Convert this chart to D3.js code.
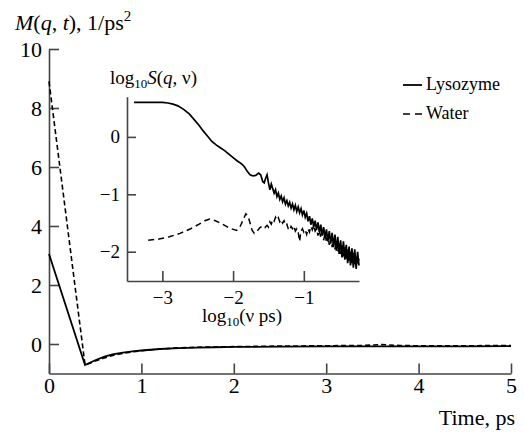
<!DOCTYPE html>
<html>
<head>
<meta charset="utf-8">
<script src="https://cdn.jsdelivr.net/npm/d3@7"></script>
<style>
  body { margin: 0; background: #fff; }
</style>
</head>
<body>
<div id="chart"></div>
<script>
var svgWidth = 524;
var svgHeight = 436;
var serif = "'Liberation Serif'";

// main plot: M(q,t) vs time
var mainXTicks = [0, 1, 2, 3, 4, 5];
var mainYTicks = [0, 2, 4, 6, 8, 10];

var lysozymeM = [[0, 3.05], [0.39, -0.71], [0.5, -0.55], [0.6, -0.43], [0.7, -0.34], [0.8, -0.29],
  [0.9, -0.25], [1.0, -0.22], [1.2, -0.17], [1.4, -0.14], [1.6, -0.12], [1.8, -0.11], [2.0, -0.10],
  [2.5, -0.09], [3.0, -0.08], [3.5, -0.08], [4.0, -0.08], [4.5, -0.08], [5.0, -0.07]];

var waterM = [[0, 8.9], [0.39, -0.71], [0.5, -0.58], [0.6, -0.47], [0.7, -0.38], [0.8, -0.32],
  [0.9, -0.27], [1.0, -0.23], [1.2, -0.17], [1.4, -0.13], [1.6, -0.11], [1.8, -0.10], [2.0, -0.09],
  [2.5, -0.07], [3.0, -0.06], [3.4, -0.05], [3.6, -0.02], [3.8, -0.05], [4.0, -0.06], [4.5, -0.06], [5.0, -0.05]];

// inset: log10 S(q,nu) vs log10(nu ps)
var insetXTicks = [-3, -2, -1];
var insetYTicks = [0, -1, -2];

var lysozymeS = [[-3.40, 0.60], [-3.20, 0.60], [-3.00, 0.60], [-2.92, 0.59], [-2.85, 0.57], [-2.78, 0.54],
  [-2.70, 0.48], [-2.62, 0.40], [-2.55, 0.30], [-2.48, 0.20], [-2.42, 0.10], [-2.36, 0.01], [-2.30, -0.08],
  [-2.24, -0.14], [-2.18, -0.19], [-2.12, -0.24], [-2.06, -0.30], [-2.00, -0.36], [-1.94, -0.42], [-1.88, -0.47],
  [-1.84, -0.52], [-1.80, -0.60], [-1.76, -0.66], [-1.72, -0.68], [-1.68, -0.67], [-1.64, -0.63], [-1.61, -0.66],
  [-1.58, -0.78], [-1.56, -0.80], [-1.54, -0.72], [-1.52, -0.66], [-1.50, -0.80], [-1.48, -0.92], [-1.46, -0.82],
  [-1.44, -0.90], [-1.42, -0.98], [-1.40, -0.92], [-1.38, -1.04], [-1.36, -0.98], [-1.34, -1.09], [-1.32, -1.03],
  [-1.30, -1.13], [-1.28, -1.06], [-1.26, -1.17], [-1.24, -1.11], [-1.22, -1.20], [-1.20, -1.14], [-1.18, -1.24],
  [-1.16, -1.17], [-1.14, -1.27], [-1.12, -1.19], [-1.10, -1.30], [-1.08, -1.22], [-1.06, -1.32], [-1.04, -1.25],
  [-1.02, -1.36], [-1.00, -1.28], [-0.98, -1.40], [-0.96, -1.33], [-0.94, -1.47], [-0.92, -1.38], [-0.90, -1.53],
  [-0.88, -1.42], [-0.86, -1.57], [-0.84, -1.46], [-0.82, -1.62], [-0.80, -1.49], [-0.78, -1.66], [-0.76, -1.53],
  [-0.74, -1.72], [-0.72, -1.57], [-0.70, -1.76], [-0.68, -1.61], [-0.66, -1.82], [-0.64, -1.64], [-0.62, -1.86],
  [-0.60, -1.67], [-0.58, -1.92], [-0.56, -1.70], [-0.54, -1.98], [-0.52, -1.74], [-0.50, -2.04], [-0.48, -1.80],
  [-0.46, -2.10], [-0.44, -1.82], [-0.42, -2.14], [-0.40, -1.88], [-0.38, -2.20], [-0.36, -1.91], [-0.34, -2.24],
  [-0.32, -1.94], [-0.30, -2.28], [-0.28, -1.96], [-0.26, -2.30], [-0.24, -2.00], [-0.22, -2.24]];

var waterS = [[-3.20, -1.80], [-3.05, -1.78], [-2.90, -1.74], [-2.75, -1.68], [-2.60, -1.60], [-2.48, -1.52],
  [-2.40, -1.46], [-2.33, -1.43], [-2.25, -1.46], [-2.15, -1.52], [-2.05, -1.59], [-1.95, -1.63], [-1.90, -1.56],
  [-1.86, -1.45], [-1.82, -1.34], [-1.79, -1.38], [-1.76, -1.50], [-1.73, -1.63], [-1.70, -1.68], [-1.66, -1.64],
  [-1.62, -1.58], [-1.58, -1.55], [-1.55, -1.58], [-1.52, -1.54], [-1.50, -1.57], [-1.48, -1.48], [-1.46, -1.52],
  [-1.44, -1.44], [-1.42, -1.47], [-1.40, -1.40], [-1.38, -1.45], [-1.36, -1.41], [-1.34, -1.48], [-1.32, -1.44],
  [-1.30, -1.50], [-1.28, -1.46], [-1.26, -1.54], [-1.24, -1.52], [-1.22, -1.60], [-1.20, -1.63], [-1.18, -1.56],
  [-1.16, -1.60], [-1.14, -1.55], [-1.12, -1.64], [-1.10, -1.60], [-1.08, -1.66], [-1.06, -1.82], [-1.04, -1.64],
  [-1.02, -1.60], [-1.00, -1.66], [-0.98, -1.62], [-0.96, -1.70], [-0.94, -1.60], [-0.92, -1.66], [-0.90, -1.56],
  [-0.88, -1.62], [-0.86, -1.54], [-0.84, -1.64], [-0.82, -1.60], [-0.80, -1.72], [-0.78, -1.62], [-0.76, -1.76],
  [-0.74, -1.66], [-0.72, -1.80], [-0.70, -1.68], [-0.68, -1.84], [-0.66, -1.72], [-0.64, -1.88], [-0.62, -1.74],
  [-0.60, -1.92], [-0.58, -1.78], [-0.56, -1.96], [-0.54, -1.82], [-0.52, -2.00], [-0.50, -1.84], [-0.48, -2.04],
  [-0.46, -1.88], [-0.44, -2.08], [-0.42, -1.92], [-0.40, -2.12], [-0.38, -1.96], [-0.36, -2.16], [-0.34, -2.00],
  [-0.32, -2.20], [-0.30, -2.02], [-0.28, -2.24], [-0.26, -2.06], [-0.24, -2.22], [-0.22, -2.12]];

var axisColor = "#444";

var svg = d3.select("#chart")
  .append("svg")
  .attr("width", svgWidth)
  .attr("height", svgHeight);

// text first, same way as plain labels elsewhere
function addText(x, y, size) {
  return svg.append("text")
    .attr("x", x)
    .attr("y", y)
    .attr("font-size", size)
    .style("font-family", serif);
}

function addSpan(t, str, italic) {
  var s = t.append("tspan").style("font-family", serif).text(str);
  if (italic) s.style("font-style", "italic");
  return s;
}

// main titles
var yTitle = addText(15, 30, 22);
addSpan(yTitle, "M", true);
addSpan(yTitle, "(", false);
addSpan(yTitle, "q", true);
addSpan(yTitle, ", ", false);
addSpan(yTitle, "t", true);
addSpan(yTitle, "), 1/ps", false);
addSpan(yTitle, "2", false).attr("font-size", 15).attr("dy", -9);

addText(515, 425, 22)
  .attr("text-anchor", "end")
  .text("Time, ps");

// legend text
addText(426, 90, 18).text("Lysozyme");
addText(426, 119, 18).text("Water");

// inset titles
var inTitle = addText(110, 84, 19);
addSpan(inTitle, "log", false);
addSpan(inTitle, "10", false).attr("font-size", 13).attr("dy", 4);
addSpan(inTitle, "S", true).attr("dy", -4);
addSpan(inTitle, "(", false);
addSpan(inTitle, "q", true);
addSpan(inTitle, ", ν)", false);

var inXLabel = addText(242, 322, 19).attr("text-anchor", "middle");
addSpan(inXLabel, "log", false);
addSpan(inXLabel, "10", false).attr("font-size", 13).attr("dy", 4);
addSpan(inXLabel, "(ν ps)", false).attr("dy", -4);

function styleAxis(ax, size) {
  ax.select(".domain").attr("stroke", axisColor).attr("stroke-width", 1.6);
  ax.selectAll(".tick line").attr("stroke", axisColor).attr("stroke-width", 1.6);
  ax.selectAll(".tick text")
    .style("font-family", serif)
    .style("font-size", size + "px")
    .attr("fill", "#000");
}

// ---- main plot ----
var xMain = d3.scaleLinear().domain([0, 5]).range([49, 511]);
var yMain = d3.scaleLinear().domain([-1, 10]).range([373.5, 49]);

var xAxisMain = svg.append("g")
  .attr("transform", `translate(0, ${yMain(-1)})`)
  .call(d3.axisBottom(xMain).tickValues(mainXTicks).tickFormat(d3.format("d"))
    .tickSizeInner(-10).tickSizeOuter(0).tickPadding(4));

var yAxisMain = svg.append("g")
  .attr("transform", `translate(${xMain(0)}, 0)`)
  .call(d3.axisLeft(yMain).tickValues(mainYTicks).tickFormat(d3.format("d"))
    .tickSizeInner(-10).tickSizeOuter(0).tickPadding(7));

styleAxis(xAxisMain, 22);
styleAxis(yAxisMain, 22);

var lineMain = d3.line()
  .x(d => xMain(d[0]))
  .y(d => yMain(d[1]));

svg.append("path")
  .datum(lysozymeM)
  .attr("d", lineMain)
  .attr("fill", "none")
  .attr("stroke", "#000")
  .attr("stroke-width", 1.8);

svg.append("path")
  .datum(waterM)
  .attr("d", lineMain)
  .attr("fill", "none")
  .attr("stroke", "#000")
  .attr("stroke-width", 1.6)
  .attr("stroke-dasharray", "5,3");

// legend keys
svg.append("line")
  .attr("x1", 403).attr("x2", 422).attr("y1", 85).attr("y2", 85)
  .attr("stroke", "#000").attr("stroke-width", 1.8);
svg.append("line")
  .attr("x1", 403).attr("x2", 422).attr("y1", 114).attr("y2", 114)
  .attr("stroke", "#000").attr("stroke-width", 1.6)
  .attr("stroke-dasharray", "7,5");

// ---- inset ----
var xIn = d3.scaleLinear().domain([-3.5, -0.22]).range([127, 359]);
var yIn = d3.scaleLinear().domain([-2.51, 0.7]).range([281, 96.7]);

var xAxisIn = svg.append("g")
  .attr("transform", `translate(0, ${yIn(-2.51)})`)
  .call(d3.axisBottom(xIn).tickValues(insetXTicks).tickSizeInner(-10).tickSizeOuter(0).tickPadding(10)
    .tickFormat(d3.format("d")));

var yAxisIn = svg.append("g")
  .attr("transform", `translate(${xIn(-3.5)}, 0)`)
  .call(d3.axisLeft(yIn).tickValues(insetYTicks).tickSizeInner(-9).tickSizeOuter(0).tickPadding(7)
    .tickFormat(d3.format("d")));

styleAxis(xAxisIn, 19);
styleAxis(yAxisIn, 19);

var lineIn = d3.line()
  .x(d => xIn(d[0]))
  .y(d => yIn(d[1]));

svg.append("path")
  .datum(lysozymeS)
  .attr("d", lineIn)
  .attr("fill", "none")
  .attr("stroke", "#000")
  .attr("stroke-width", 1.7);

svg.append("path")
  .datum(waterS)
  .attr("d", lineIn)
  .attr("fill", "none")
  .attr("stroke", "#000")
  .attr("stroke-width", 1.5)
  .attr("stroke-dasharray", "6,4");
</script>
</body>
</html>
